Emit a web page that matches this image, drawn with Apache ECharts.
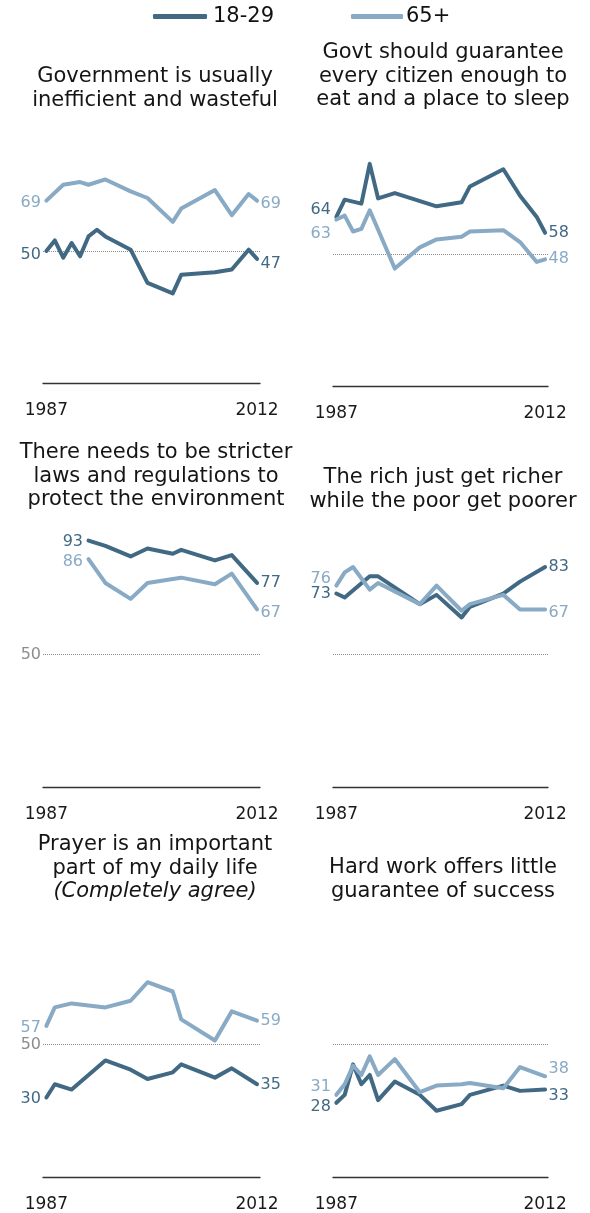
<!DOCTYPE html>
<html><head><meta charset="utf-8">
<script src="https://cdn.jsdelivr.net/npm/echarts@6/dist/echarts.min.js"></script>
<style>html,body{margin:0;padding:0;background:#fff}#c{width:590px;height:1213px}</style>
</head><body><div id="c"></div>
<script>
// ---------- DATA ----------
const YEARS = [1987,1988,1989,1990,1991,1992,1993,1994,1997,1999,2002,2003,2007,2009,2011,2012];
const SERIES_NAMES = ['18-29', '65+'];
const X_TICK_LABELS = [1987, 2012];
const REF_VALUE = 50;
const TITLES = [
  'Government is usually\ninefficient and wasteful',
  'Govt should guarantee\nevery citizen enough to\neat and a place to sleep',
  'There needs to be stricter\nlaws and regulations to\nprotect the environment',
  'The rich just get richer\nwhile the poor get poorer',
  'Prayer is an important\npart of my daily life',
  'Hard work offers little\nguarantee of success'
];
const TITLE_NOTES = [null, null, null, null, '(Completely agree)', null];

const WASTE_YOUNG  = [50, 54, 47.5, 53, 48, 55.5, 58, 55.5, 50.5, 38, 34, 41, 42, 43, 50.5, 47];
const WASTE_OLD    = [69, null, 75, null, 76, 75, null, 77, 72.5, 70, 61, 66, 73, 63.5, 71.5, 69];
const SAFETY_YOUNG = [64, 70.5, null, 69, 84, 71, null, 73, null, 68, 69.5, 75.5, 82, 72, 64, 58];
const SAFETY_OLD   = [63, 64.5, 58.5, 59.5, 66.5, null, null, 44.5, 52.5, 55.5, 56.5, 58.5, 59, 54.5, 47, 48];
const ENV_YOUNG    = [null, null, null, null, null, 93, null, 91, 87, 90, 88, 89.5, 85.5, 87.5, null, 77];
const ENV_OLD      = [null, null, null, null, null, 86, null, 77, 71, 77, 78.5, 79, 76.5, 80.5, null, 67];
const RICH_YOUNG   = [73, 71.5, null, null, 79.5, 79.5, null, null, 69, 72.5, 64, 68, 73, 77.5, null, 83];
const RICH_OLD     = [76, 81, 83, null, 74.5, 77, null, null, 69, 76, 66.5, 69, 72.5, 67, null, 67];
const PRAYER_YOUNG = [30, 35, null, 33, null, null, null, 44, 40.5, 37, 39.5, 42.5, 37.5, 41, null, 35];
const PRAYER_OLD   = [57, 64, null, 65.5, null, null, null, 64, 66.5, 73.5, 70, 59.5, 51.5, 62.5, null, 59];
const WORK_YOUNG   = [28, 31, 42.5, 35, 38.5, 29, null, 36, 31, 25, 27.5, 31, 34.5, 32.5, null, 33];
const WORK_OLD     = [31, 35, 42, 38.5, 45.5, 38.5, null, 44.5, 32, 34.5, 35, 35.5, 33.5, 41.5, null, 38];

const PANEL_DATA = [
  [WASTE_YOUNG, WASTE_OLD],
  [SAFETY_YOUNG, SAFETY_OLD],
  [ENV_YOUNG, ENV_OLD],
  [RICH_YOUNG, RICH_OLD],
  [PRAYER_YOUNG, PRAYER_OLD],
  [WORK_YOUNG, WORK_OLD]
];

// ---------- LAYOUT / STYLE ----------
const FONT = 'DejaVu Sans';
const COLORS = ['#416984', '#88aac5'];
const LAYOUT = [
  {grid:{left:43, top:118.5, width:217, height:265}, tx:155, tt:65,  ref:false, off:[[4,5],[2,3]]},
  {grid:{left:333,top:121.5, width:215, height:265}, tx:443, tt:41,  ref:false, off:[[-7,0],[14,0]]},
  {grid:{left:43, top:522,   width:217, height:265}, tx:156, tt:441, ref:true,  off:[[1,0],[3,3]]},
  {grid:{left:333,top:522,   width:215, height:265}, tx:443, tt:466, ref:false, off:[[0,0],[-7,3]]},
  {grid:{left:43, top:912,   width:217, height:265}, tx:155, tt:833, ref:true,  off:[[1,1],[2,0]]},
  {grid:{left:333,top:912,   width:215, height:265}, tx:443, tt:856, ref:false, off:[[4,6],[-8,-7]]}
];

function buildData(vals, offs) {
  const pts = [];
  YEARS.forEach((y, i) => { if (vals[i] != null) pts.push([y, vals[i]]); });
  return pts.map((p, i) => {
    if (i === 0) return {value: p, label: {show: true, position: 'left', distance: 5, offset: [0, offs[0]]}};
    if (i === pts.length - 1) return {value: p, label: {show: true, position: 'right', distance: 3, offset: [0, offs[1]]}};
    return {value: p};
  });
}

const grids = [], xAxes = [], yAxes = [], series = [], titles = [];
LAYOUT.forEach((L, k) => {
  grids.push(L.grid);
  xAxes.push({
    type: 'value', gridIndex: k, min: 1986.6, max: 2012.35,
    axisLine: {show: true, onZero: false, lineStyle: {color: '#333', width: 1.3}},
    axisTick: {show: false}, splitLine: {show: false},
    axisLabel: {customValues: X_TICK_LABELS, margin: 19, fontSize: 17, color: '#1a1a1a', fontFamily: FONT,
      formatter: v => String(v)}
  });
  yAxes.push({type: 'value', gridIndex: k, min: 0, max: 100, show: false});
  const note = TITLE_NOTES[k];
  titles.push({
    text: TITLES[k] + (note ? '\n{i|' + note + '}' : ''),
    left: L.tx, top: L.tt, textAlign: 'center', padding: 0,
    textStyle: {fontFamily: FONT, fontSize: 21, fontWeight: 'normal', color: '#151515', lineHeight: 23.5,
      rich: {i: {fontFamily: FONT, fontSize: 21, fontStyle: 'italic', color: '#151515', lineHeight: 23.5}}}
  });
  PANEL_DATA[k].forEach((vals, s) => {
    const ser = {
      type: 'line', name: SERIES_NAMES[s], xAxisIndex: k, yAxisIndex: k,
      data: buildData(vals, L.off[s]),
      symbol: 'circle', symbolSize: 1, showSymbol: true,
      z: 2 + s,
      color: COLORS[s],
      itemStyle: {color: COLORS[s]},
      lineStyle: {width: 4, color: COLORS[s], cap: 'round', join: 'round'},
      label: {show: false, color: COLORS[s], fontSize: 16, fontFamily: FONT, formatter: p => String(p.value[1])},
      emphasis: {disabled: true},
      silent: true
    };
    if (s === 0) {
      ser.markLine = {
        silent: true, z: 1, symbol: 'none', animation: false,
        lineStyle: {type: 'dotted', color: '#8a8a8a', width: 1},
        label: {show: L.ref, position: 'start', distance: 2, formatter: String(REF_VALUE), color: '#8c8c8c', fontSize: 16, fontFamily: FONT},
        data: [{yAxis: REF_VALUE}]
      };
    }
    series.push(ser);
  });
});

const chart = echarts.init(document.getElementById('c'), null, {renderer: 'canvas'});
chart.setOption({
  animation: false,
  backgroundColor: '#fff',
  title: titles,
  legend: [
    {data: [SERIES_NAMES[0]], left: 148, top: 1, icon: 'roundRect', itemWidth: 54, itemHeight: 5, itemGap: 0,
     textStyle: {fontFamily: FONT, fontSize: 21, color: '#111', padding: [0,0,0,1]}, selectedMode: false},
    {data: [SERIES_NAMES[1]], left: 346, top: 1, icon: 'roundRect', itemWidth: 52, itemHeight: 5, itemGap: 0,
     textStyle: {fontFamily: FONT, fontSize: 21, color: '#111', padding: [0,0,0,-2]}, selectedMode: false}
  ],
  grid: grids, xAxis: xAxes, yAxis: yAxes, series: series
});
</script></body></html>
